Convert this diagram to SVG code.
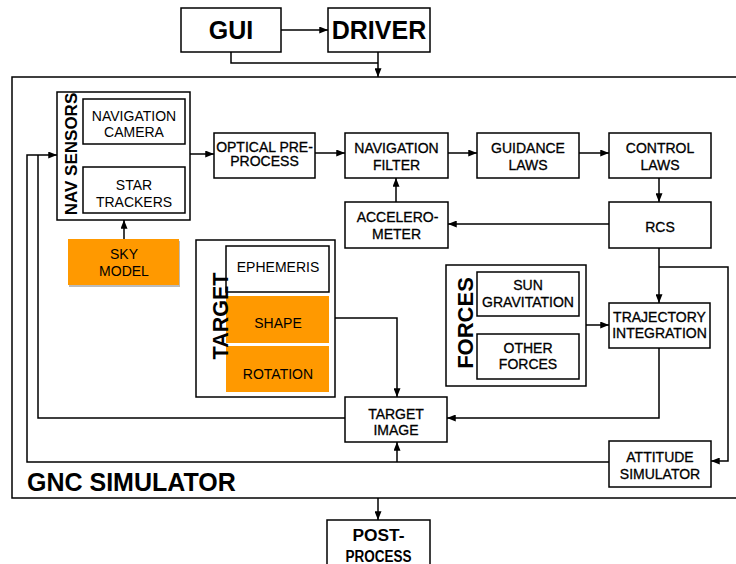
<svg xmlns="http://www.w3.org/2000/svg" width="736" height="564" viewBox="0 0 736 564">
<style>
.b{fill:#fff;stroke:#000;stroke-width:1.5}
.o{fill:#FF9900;stroke:none}
.t{font-family:"Liberation Sans",Arial,sans-serif;font-size:14px;fill:#000;text-anchor:middle}
.m{stroke:#000;stroke-width:0.3}
.big{font-family:"Liberation Sans",Arial,sans-serif;font-weight:bold;fill:#000}
.c{fill:none;stroke:#000;stroke-width:1.5}
</style>
<defs>
<marker id="a" viewBox="0 0 10 8" refX="10" refY="4" markerWidth="9" markerHeight="7" markerUnits="userSpaceOnUse" orient="auto">
<path d="M0,0 L10,4 L0,8 z" fill="#000"/>
</marker>
</defs>
<rect width="736" height="564" fill="#fff"/>

<g id="gnc-simulator">
<rect x="12" y="77" width="740" height="421" class="b"/>
<text x="27" y="491" class="big" font-size="25">GNC SIMULATOR</text>
</g>

<g id="gui">
<rect x="181" y="8" width="100" height="44" class="b"/>
<text x="231" y="39" class="big" font-size="25" text-anchor="middle">GUI</text>
</g>
<g id="driver">
<rect x="328" y="8" width="102" height="44" class="b"/>
<text x="379" y="39" class="big" font-size="25" text-anchor="middle">DRIVER</text>
</g>

<g id="nav-sensors">
<rect x="57" y="92" width="133" height="128" class="b"/>
<text transform="translate(77,154) rotate(-90)" class="big" font-size="17" text-anchor="middle">NAV SENSORS</text>
</g>
<g id="navigation-camera">
<rect x="83" y="99" width="102" height="45" class="b"/>
<text class="t"><tspan x="134" y="121">NAVIGATION</tspan><tspan x="134" y="137">CAMERA</tspan></text>
</g>
<g id="star-trackers">
<rect x="83" y="167" width="102" height="46" class="b"/>
<text class="t"><tspan x="134" y="190">STAR</tspan><tspan x="134" y="207">TRACKERS</tspan></text>
</g>
<g id="sky-model">
<rect x="69" y="241" width="111" height="46" fill="#bbb"/>
<rect x="68" y="239" width="111" height="46" class="o"/>
<text class="t" fill="#222"><tspan x="124" y="259">SKY</tspan><tspan x="124" y="276">MODEL</tspan></text>
</g>

<g id="optical-pre-process">
<rect x="214" y="133" width="101" height="45" class="b"/>
<text class="t m" font-size="11.5"><tspan x="264.5" y="151.5">OPTICAL PRE-</tspan><tspan x="264.5" y="166">PROCESS</tspan></text>
</g>
<g id="navigation-filter">
<rect x="345" y="133" width="103" height="45" class="b"/>
<text class="t m"><tspan x="396.5" y="153">NAVIGATION</tspan><tspan x="396.5" y="170">FILTER</tspan></text>
</g>
<g id="guidance-laws">
<rect x="477" y="133" width="102" height="45" class="b"/>
<text class="t m"><tspan x="528" y="153">GUIDANCE</tspan><tspan x="528" y="170">LAWS</tspan></text>
</g>
<g id="control-laws">
<rect x="609" y="133" width="102" height="45" class="b"/>
<text class="t m"><tspan x="660" y="153">CONTROL</tspan><tspan x="660" y="170">LAWS</tspan></text>
</g>
<g id="accelerometer">
<rect x="345" y="202" width="103" height="46" class="b"/>
<text class="t m"><tspan x="397.5" y="221.5">ACCELERO-</tspan><tspan x="396.5" y="239">METER</tspan></text>
</g>
<g id="rcs">
<rect x="609" y="202" width="102" height="46" class="b"/>
<text x="660" y="232" class="t m">RCS</text>
</g>

<g id="target">
<rect x="196" y="240" width="139" height="157" class="b"/>
</g>
<g id="ephemeris">
<rect x="226" y="246" width="103" height="46" class="b"/>
<text x="278" y="272" class="t">EPHEMERIS</text>
</g>
<g id="shape">
<rect x="226" y="296" width="103" height="47" class="o"/>
<text x="278" y="328" class="t" fill="#222">SHAPE</text>
</g>
<g id="rotation">
<rect x="226" y="346" width="103" height="46" class="o"/>
<text x="278" y="379" class="t" fill="#222">ROTATION</text>
</g>
<text id="target-label" transform="translate(228,316) rotate(-90)" class="big" font-size="21.5" text-anchor="middle">TARGET</text>

<g id="forces">
<rect x="446" y="265" width="140" height="121" class="b"/>
<text transform="translate(473,323) rotate(-90)" class="big" font-size="22" text-anchor="middle">FORCES</text>
</g>
<g id="sun-gravitation">
<rect x="477" y="272" width="102" height="44" class="b"/>
<text class="t m"><tspan x="528" y="290">SUN</tspan><tspan x="528" y="307">GRAVITATION</tspan></text>
</g>
<g id="other-forces">
<rect x="477" y="334" width="102" height="45" class="b"/>
<text class="t m"><tspan x="528" y="353">OTHER</tspan><tspan x="528" y="369">FORCES</tspan></text>
</g>
<g id="trajectory-integration">
<rect x="609" y="303" width="101" height="45" class="b"/>
<text class="t m"><tspan x="659.5" y="321.5">TRAJECTORY</tspan><tspan x="659.5" y="337.5">INTEGRATION</tspan></text>
</g>
<g id="target-image">
<rect x="345" y="397" width="102" height="45" class="b"/>
<text class="t m"><tspan x="396" y="419">TARGET</tspan><tspan x="396" y="434.5">IMAGE</tspan></text>
</g>
<g id="attitude-simulator">
<rect x="609" y="441" width="102" height="46" class="b"/>
<text class="t m"><tspan x="660" y="461.5">ATTITUDE</tspan><tspan x="660" y="479">SIMULATOR</tspan></text>
</g>
<g id="post-process">
<rect x="327" y="520" width="103" height="60" class="b"/>
<text class="big" font-size="16" text-anchor="middle"><tspan x="378.5" y="541" textLength="52" lengthAdjust="spacingAndGlyphs">POST-</tspan><tspan x="378.5" y="561.5" textLength="66" lengthAdjust="spacingAndGlyphs">PROCESS</tspan></text>
</g>

<g id="connectors">
<line x1="281" y1="30" x2="328" y2="30" class="c" marker-end="url(#a)"/>
<polyline points="231,52 231,63 378,63" class="c"/>
<line x1="378" y1="52" x2="378" y2="77" class="c" marker-end="url(#a)"/>
<line x1="190" y1="154" x2="214" y2="154" class="c" marker-end="url(#a)"/>
<line x1="315" y1="153" x2="345" y2="153" class="c" marker-end="url(#a)"/>
<line x1="448" y1="153" x2="477" y2="153" class="c" marker-end="url(#a)"/>
<line x1="579" y1="153" x2="609" y2="153" class="c" marker-end="url(#a)"/>
<line x1="659" y1="178" x2="659" y2="202" class="c" marker-end="url(#a)"/>
<line x1="609" y1="224" x2="448" y2="224" class="c" marker-end="url(#a)"/>
<line x1="396" y1="202" x2="396" y2="178" class="c" marker-end="url(#a)"/>
<line x1="659" y1="248" x2="659" y2="303" class="c" marker-end="url(#a)"/>
<polyline points="659,267 728,267 728,461 711,461" class="c" marker-end="url(#a)"/>
<line x1="586" y1="325" x2="609" y2="325" class="c" marker-end="url(#a)"/>
<polyline points="659,348 659,418 447,418" class="c" marker-end="url(#a)"/>
<polyline points="335,318 397,318 397,397" class="c" marker-end="url(#a)"/>
<polyline points="345,418 38,418 38,155" class="c"/>
<polyline points="609,462 27,462 27,155 57,155" class="c" marker-end="url(#a)"/>
<line x1="397" y1="462" x2="397" y2="442" class="c" marker-end="url(#a)"/>
<line x1="124" y1="239" x2="124" y2="220" class="c" marker-end="url(#a)"/>
<line x1="378" y1="498" x2="378" y2="520" class="c" marker-end="url(#a)"/>
</g>
</svg>
